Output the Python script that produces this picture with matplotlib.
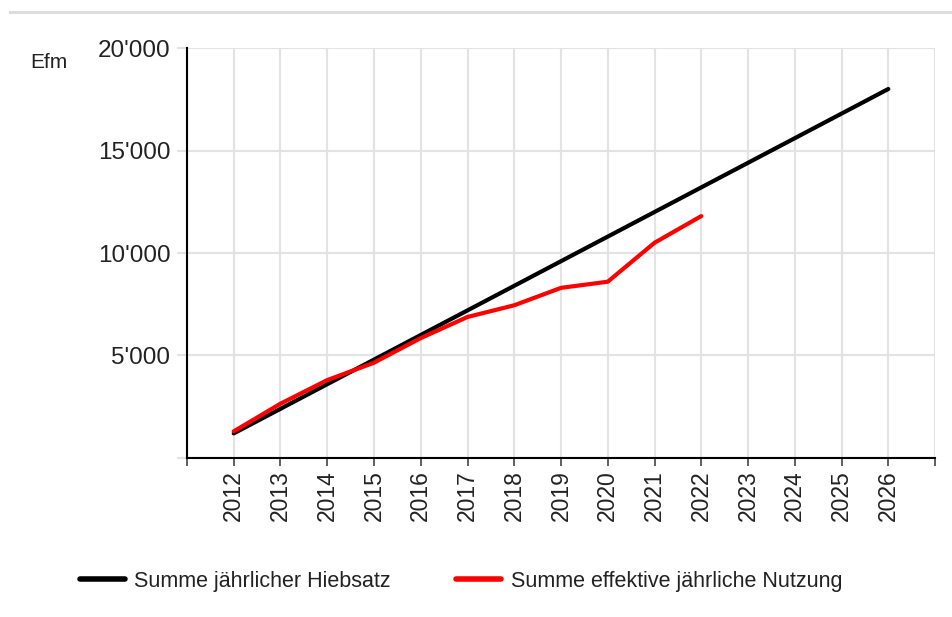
import matplotlib
matplotlib.use("Agg")
from matplotlib import pyplot as plt
from matplotlib.lines import Line2D

plt.rcParams['font.family'] = ['Liberation Sans', 'DejaVu Sans']

years = [2012, 2013, 2014, 2015, 2016, 2017, 2018, 2019, 2020, 2021, 2022, 2023, 2024, 2025, 2026]
hiebsatz = [1200, 2400, 3600, 4800, 6000, 7200, 8400, 9600, 10800, 12000, 13200, 14400, 15600, 16800, 18000]
nutzung_years = [2012, 2013, 2014, 2015, 2016, 2017, 2018, 2019, 2020, 2021, 2022]
nutzung = [1300, 2650, 3800, 4650, 5850, 6880, 7450, 8300, 8600, 10500, 11800]

y_ticks = [0, 5000, 10000, 15000, 20000]
y_labels = ['', "5'000", "10'000", "15'000", "20'000"]

grid_col = '#e3e3e3'
txt_col = '#222222'

fig = plt.figure(figsize=(9.52, 6.17), dpi=100)
ax = fig.add_axes([0.1964, 0.2577, 0.7858, 0.6645])

ax.plot(years, hiebsatz, color='black', lw=3.0, solid_capstyle='round',
        label='Summe jährlicher Hiebsatz', zorder=3)
ax.plot(nutzung_years, nutzung, color='#ff0000', lw=3.0, solid_capstyle='round',
        label='Summe effektive jährliche Nutzung', zorder=4)

ax.set_xlim(2011, 2027)
ax.set_ylim(0, 20000)

xt = list(range(2011, 2028))
ax.set_xticks(xt)
ax.set_xticklabels([str(y) if 2012 <= y <= 2026 else '' for y in xt],
                   rotation=90, fontsize=16.5, color=txt_col)
ax.set_yticks(y_ticks)
ax.set_yticklabels(y_labels, fontsize=17.5, color=txt_col)

ax.grid(True, color=grid_col, lw=1.5, zorder=0)
ax.set_axisbelow(True)

for s in ['top', 'right']:
    ax.spines[s].set_visible(False)
for s in ['left', 'bottom']:
    ax.spines[s].set_color('black')
    ax.spines[s].set_linewidth(1.5)

ax.tick_params(axis='x', length=6, width=1.2, color='#444444', pad=3)
ax.tick_params(axis='y', length=7, width=1.5, color=grid_col, pad=5)
ax.yaxis.get_major_ticks()[0].tick1line.set_color('black')
ax.xaxis.get_major_ticks()[0].tick1line.set_color('black')

fig.text(0.051, 0.899, 'Efm', fontsize=15, ha='center', va='center', color=txt_col)

fig.add_artist(Line2D([0.01, 1.0], [0.981, 0.981], color='#dddddd', lw=2.2,
                      transform=fig.transFigure))

leg = fig.legend(loc='center', bbox_to_anchor=(0.484, 0.058), ncol=2, frameon=False,
                 fontsize=15.5, handlelength=2.1, columnspacing=3.0, handletextpad=0.45)
for line in leg.get_lines():
    line.set_linewidth(4)
for t in leg.get_texts():
    t.set_color(txt_col)

fig.savefig('out.png', dpi=100)
